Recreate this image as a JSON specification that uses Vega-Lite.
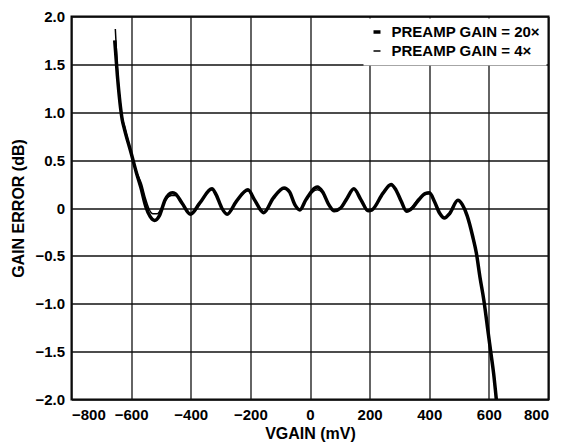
{
  "$schema": "https://vega.github.io/schema/vega-lite/v6.json",
  "width": 477,
  "height": 383,
  "autosize": {"type": "none"},
  "padding": {"left": 71.5, "top": 16.5, "right": 26.5, "bottom": 46.5},
  "background": "white",
  "config": {
    "font": "Liberation Sans",
    "view": {"stroke": "black", "strokeWidth": 2},
    "axis": {
      "grid": true,
      "gridColor": "#111",
      "gridWidth": 1.3,
      "gridOpacity": 1,
      "domain": false,
      "ticks": false,
      "labelFont": "Liberation Sans",
      "labelFontWeight": "bold",
      "labelFontSize": 15,
      "labelColor": "black",
      "titleFont": "Liberation Sans",
      "titleFontWeight": "bold",
      "titleFontSize": 16,
      "titleColor": "black"
    }
  },
  "data": {
    "values": [
      {"v": -655, "e": 1.75, "s": "PREAMP GAIN = 20×"},
      {"v": -646, "e": 1.38, "s": "PREAMP GAIN = 20×"},
      {"v": -630, "e": 0.925, "s": "PREAMP GAIN = 20×"},
      {"v": -622, "e": 0.82, "s": "PREAMP GAIN = 20×"},
      {"v": -600, "e": 0.575, "s": "PREAMP GAIN = 20×"},
      {"v": -582, "e": 0.365, "s": "PREAMP GAIN = 20×"},
      {"v": -567, "e": 0.21, "s": "PREAMP GAIN = 20×"},
      {"v": -551, "e": 0.016, "s": "PREAMP GAIN = 20×"},
      {"v": -536, "e": -0.09, "s": "PREAMP GAIN = 20×"},
      {"v": -521, "e": -0.13, "s": "PREAMP GAIN = 20×"},
      {"v": -505, "e": -0.08, "s": "PREAMP GAIN = 20×"},
      {"v": -486, "e": 0.085, "s": "PREAMP GAIN = 20×"},
      {"v": -462, "e": 0.16, "s": "PREAMP GAIN = 20×"},
      {"v": -452, "e": 0.15, "s": "PREAMP GAIN = 20×"},
      {"v": -429, "e": 0.05, "s": "PREAMP GAIN = 20×"},
      {"v": -401, "e": -0.065, "s": "PREAMP GAIN = 20×"},
      {"v": -370, "e": 0.05, "s": "PREAMP GAIN = 20×"},
      {"v": -329, "e": 0.2, "s": "PREAMP GAIN = 20×"},
      {"v": -315, "e": 0.14, "s": "PREAMP GAIN = 20×"},
      {"v": -296, "e": 0.0, "s": "PREAMP GAIN = 20×"},
      {"v": -278, "e": -0.065, "s": "PREAMP GAIN = 20×"},
      {"v": -247, "e": 0.07, "s": "PREAMP GAIN = 20×"},
      {"v": -208, "e": 0.19, "s": "PREAMP GAIN = 20×"},
      {"v": -186, "e": 0.085, "s": "PREAMP GAIN = 20×"},
      {"v": -155, "e": -0.05, "s": "PREAMP GAIN = 20×"},
      {"v": -124, "e": 0.1, "s": "PREAMP GAIN = 20×"},
      {"v": -87, "e": 0.21, "s": "PREAMP GAIN = 20×"},
      {"v": -69, "e": 0.17, "s": "PREAMP GAIN = 20×"},
      {"v": -50, "e": 0.03, "s": "PREAMP GAIN = 20×"},
      {"v": -34, "e": -0.02, "s": "PREAMP GAIN = 20×"},
      {"v": -14, "e": 0.085, "s": "PREAMP GAIN = 20×"},
      {"v": 25, "e": 0.22, "s": "PREAMP GAIN = 20×"},
      {"v": 42, "e": 0.17, "s": "PREAMP GAIN = 20×"},
      {"v": 64, "e": 0.03, "s": "PREAMP GAIN = 20×"},
      {"v": 81, "e": -0.03, "s": "PREAMP GAIN = 20×"},
      {"v": 103, "e": 0.0, "s": "PREAMP GAIN = 20×"},
      {"v": 124, "e": 0.1, "s": "PREAMP GAIN = 20×"},
      {"v": 147, "e": 0.2, "s": "PREAMP GAIN = 20×"},
      {"v": 171, "e": 0.085, "s": "PREAMP GAIN = 20×"},
      {"v": 195, "e": -0.03, "s": "PREAMP GAIN = 20×"},
      {"v": 208, "e": -0.02, "s": "PREAMP GAIN = 20×"},
      {"v": 245, "e": 0.155, "s": "PREAMP GAIN = 20×"},
      {"v": 272, "e": 0.245, "s": "PREAMP GAIN = 20×"},
      {"v": 288, "e": 0.19, "s": "PREAMP GAIN = 20×"},
      {"v": 306, "e": 0.07, "s": "PREAMP GAIN = 20×"},
      {"v": 324, "e": -0.035, "s": "PREAMP GAIN = 20×"},
      {"v": 343, "e": 0.0, "s": "PREAMP GAIN = 20×"},
      {"v": 361, "e": 0.07, "s": "PREAMP GAIN = 20×"},
      {"v": 386, "e": 0.15, "s": "PREAMP GAIN = 20×"},
      {"v": 401, "e": 0.16, "s": "PREAMP GAIN = 20×"},
      {"v": 417, "e": 0.07, "s": "PREAMP GAIN = 20×"},
      {"v": 435, "e": -0.055, "s": "PREAMP GAIN = 20×"},
      {"v": 451, "e": -0.105, "s": "PREAMP GAIN = 20×"},
      {"v": 469, "e": -0.055, "s": "PREAMP GAIN = 20×"},
      {"v": 496, "e": 0.08, "s": "PREAMP GAIN = 20×"},
      {"v": 511, "e": 0.035, "s": "PREAMP GAIN = 20×"},
      {"v": 527, "e": -0.08, "s": "PREAMP GAIN = 20×"},
      {"v": 546, "e": -0.3, "s": "PREAMP GAIN = 20×"},
      {"v": 558, "e": -0.47, "s": "PREAMP GAIN = 20×"},
      {"v": 570, "e": -0.72, "s": "PREAMP GAIN = 20×"},
      {"v": 583, "e": -0.96, "s": "PREAMP GAIN = 20×"},
      {"v": 598, "e": -1.31, "s": "PREAMP GAIN = 20×"},
      {"v": 607, "e": -1.52, "s": "PREAMP GAIN = 20×"},
      {"v": 616, "e": -1.73, "s": "PREAMP GAIN = 20×"},
      {"v": 625, "e": -2.0, "s": "PREAMP GAIN = 20×"},

      {"v": -653, "e": 1.87, "s": "PREAMP GAIN = 4×"},
      {"v": -646, "e": 1.45, "s": "PREAMP GAIN = 4×"},
      {"v": -630, "e": 0.95, "s": "PREAMP GAIN = 4×"},
      {"v": -622, "e": 0.85, "s": "PREAMP GAIN = 4×"},
      {"v": -600, "e": 0.58, "s": "PREAMP GAIN = 4×"},
      {"v": -582, "e": 0.38, "s": "PREAMP GAIN = 4×"},
      {"v": -565, "e": 0.25, "s": "PREAMP GAIN = 4×"},
      {"v": -552, "e": 0.1, "s": "PREAMP GAIN = 4×"},
      {"v": -540, "e": -0.01, "s": "PREAMP GAIN = 4×"},
      {"v": -527, "e": -0.06, "s": "PREAMP GAIN = 4×"},
      {"v": -512, "e": -0.06, "s": "PREAMP GAIN = 4×"},
      {"v": -498, "e": 0.0, "s": "PREAMP GAIN = 4×"},
      {"v": -483, "e": 0.09, "s": "PREAMP GAIN = 4×"},
      {"v": -465, "e": 0.13, "s": "PREAMP GAIN = 4×"},
      {"v": -452, "e": 0.13, "s": "PREAMP GAIN = 4×"},
      {"v": -429, "e": 0.05, "s": "PREAMP GAIN = 4×"},
      {"v": -401, "e": -0.06, "s": "PREAMP GAIN = 4×"},
      {"v": -370, "e": 0.05, "s": "PREAMP GAIN = 4×"},
      {"v": -329, "e": 0.19, "s": "PREAMP GAIN = 4×"},
      {"v": -315, "e": 0.14, "s": "PREAMP GAIN = 4×"},
      {"v": -296, "e": 0.0, "s": "PREAMP GAIN = 4×"},
      {"v": -278, "e": -0.06, "s": "PREAMP GAIN = 4×"},
      {"v": -247, "e": 0.07, "s": "PREAMP GAIN = 4×"},
      {"v": -208, "e": 0.18, "s": "PREAMP GAIN = 4×"},
      {"v": -186, "e": 0.085, "s": "PREAMP GAIN = 4×"},
      {"v": -155, "e": -0.04, "s": "PREAMP GAIN = 4×"},
      {"v": -124, "e": 0.1, "s": "PREAMP GAIN = 4×"},
      {"v": -87, "e": 0.2, "s": "PREAMP GAIN = 4×"},
      {"v": -69, "e": 0.17, "s": "PREAMP GAIN = 4×"},
      {"v": -50, "e": 0.03, "s": "PREAMP GAIN = 4×"},
      {"v": -34, "e": -0.02, "s": "PREAMP GAIN = 4×"},
      {"v": -14, "e": 0.085, "s": "PREAMP GAIN = 4×"},
      {"v": 25, "e": 0.19, "s": "PREAMP GAIN = 4×"},
      {"v": 42, "e": 0.16, "s": "PREAMP GAIN = 4×"},
      {"v": 64, "e": 0.03, "s": "PREAMP GAIN = 4×"},
      {"v": 81, "e": -0.03, "s": "PREAMP GAIN = 4×"},
      {"v": 103, "e": 0.0, "s": "PREAMP GAIN = 4×"},
      {"v": 124, "e": 0.1, "s": "PREAMP GAIN = 4×"},
      {"v": 147, "e": 0.2, "s": "PREAMP GAIN = 4×"},
      {"v": 171, "e": 0.085, "s": "PREAMP GAIN = 4×"},
      {"v": 195, "e": -0.03, "s": "PREAMP GAIN = 4×"},
      {"v": 208, "e": -0.02, "s": "PREAMP GAIN = 4×"},
      {"v": 245, "e": 0.15, "s": "PREAMP GAIN = 4×"},
      {"v": 272, "e": 0.235, "s": "PREAMP GAIN = 4×"},
      {"v": 288, "e": 0.19, "s": "PREAMP GAIN = 4×"},
      {"v": 306, "e": 0.07, "s": "PREAMP GAIN = 4×"},
      {"v": 324, "e": -0.03, "s": "PREAMP GAIN = 4×"},
      {"v": 343, "e": 0.01, "s": "PREAMP GAIN = 4×"},
      {"v": 361, "e": 0.09, "s": "PREAMP GAIN = 4×"},
      {"v": 386, "e": 0.14, "s": "PREAMP GAIN = 4×"},
      {"v": 401, "e": 0.155, "s": "PREAMP GAIN = 4×"},
      {"v": 417, "e": 0.07, "s": "PREAMP GAIN = 4×"},
      {"v": 435, "e": -0.05, "s": "PREAMP GAIN = 4×"},
      {"v": 451, "e": -0.1, "s": "PREAMP GAIN = 4×"},
      {"v": 469, "e": -0.05, "s": "PREAMP GAIN = 4×"},
      {"v": 496, "e": 0.08, "s": "PREAMP GAIN = 4×"},
      {"v": 511, "e": 0.035, "s": "PREAMP GAIN = 4×"},
      {"v": 527, "e": -0.08, "s": "PREAMP GAIN = 4×"},
      {"v": 546, "e": -0.3, "s": "PREAMP GAIN = 4×"},
      {"v": 558, "e": -0.47, "s": "PREAMP GAIN = 4×"},
      {"v": 570, "e": -0.72, "s": "PREAMP GAIN = 4×"},
      {"v": 583, "e": -0.96, "s": "PREAMP GAIN = 4×"},
      {"v": 598, "e": -1.31, "s": "PREAMP GAIN = 4×"},
      {"v": 607, "e": -1.52, "s": "PREAMP GAIN = 4×"},
      {"v": 616, "e": -1.73, "s": "PREAMP GAIN = 4×"},
      {"v": 625, "e": -2.0, "s": "PREAMP GAIN = 4×"}
    ]
  },
  "mark": {"type": "line", "color": "black", "interpolate": "monotone", "clip": true},
  "encoding": {
    "x": {
      "field": "v",
      "type": "quantitative",
      "scale": {"domain": [-800, 800], "nice": false, "zero": false},
      "axis": {"values": [-800, -600, -400, -200, 0, 200, 400, 600, 800], "labelPadding": 8, "title": "VGAIN (mV)", "titlePadding": 3, "format": "d"}
    },
    "y": {
      "field": "e",
      "type": "quantitative",
      "scale": {"domain": [-2, 2], "nice": false, "zero": false},
      "axis": {
        "values": [-2, -1.5, -1, -0.5, 0, 0.5, 1, 1.5, 2],
        "labelPadding": 7,
        "labelExpr": "datum.value == 0 ? '0' : format(datum.value, '.1f')",
        "title": "GAIN ERROR (dB)",
        "titlePadding": 8
      }
    },
    "strokeWidth": {
      "field": "s",
      "type": "nominal",
      "scale": {"domain": ["PREAMP GAIN = 20×", "PREAMP GAIN = 4×"], "range": [3.5, 1.5]},
      "legend": {
        "title": null,
        "orient": "top-right",
        "offset": 2,
        "fillColor": "white",
        "padding": 6,
        "symbolType": "stroke",
        "symbolSize": 49,
        "symbolStrokeColor": "black",
        "labelFont": "Liberation Sans",
        "labelFontWeight": "bold",
        "labelFontSize": 15,
        "labelColor": "black",
        "rowPadding": 3,
        "labelOffset": 7
      }
    }
  }
}
